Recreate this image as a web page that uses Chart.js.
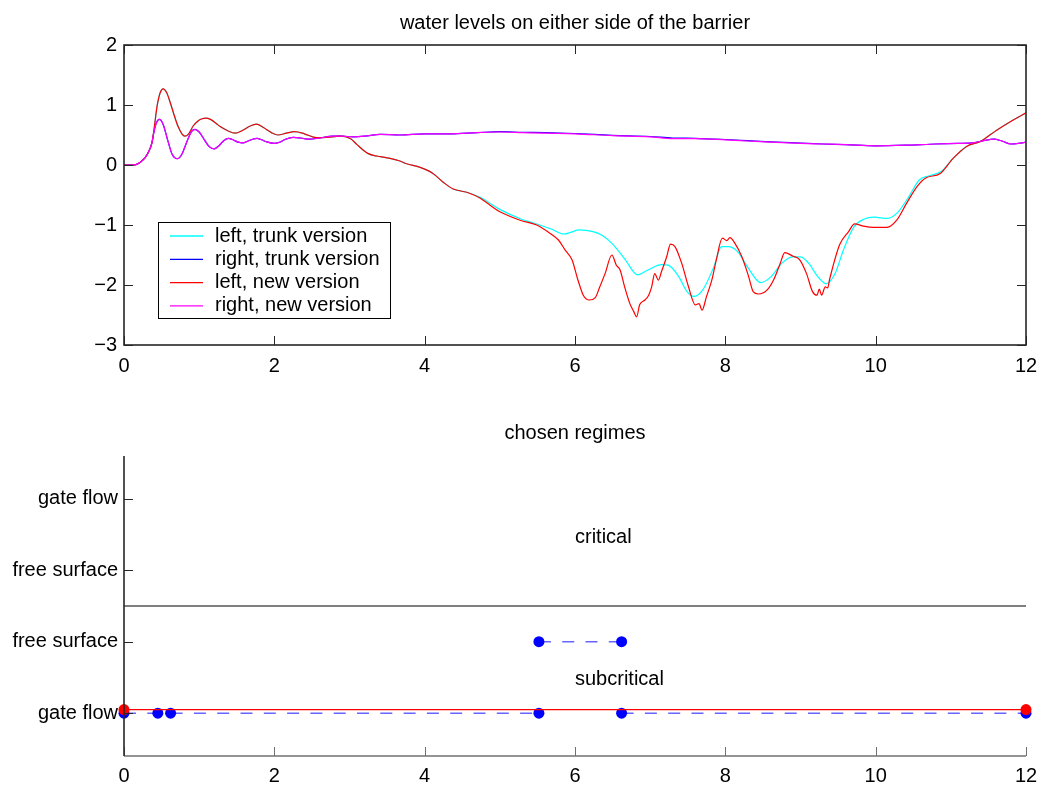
<!DOCTYPE html>
<html>
<head>
<meta charset="utf-8">
<title>water levels on either side of the barrier</title>
<script src="https://cdn.jsdelivr.net/npm/chart.js@4/dist/chart.umd.min.js"></script>
<style>
  html, body { margin: 0; padding: 0; background: #fff; }
  canvas { position: absolute; left: 0; }
  #levels { top: 0; }
  #regimes { top: 400px; }
</style>
</head>
<body>
<canvas id="levels" width="1039" height="400"></canvas>
<canvas id="regimes" width="1039" height="387"></canvas>
<script>
// ---- water levels: [time, level] ----
const leftTrunkLevels = [
  [0,0],[0.1,0],[0.17,0.01],[0.25,0.08],[0.31,0.18],[0.37,0.36],[0.4,0.6],[0.44,0.98],[0.48,1.2],[0.52,1.27],
  [0.57,1.2],[0.62,1.02],[0.67,0.82],[0.72,0.64],[0.77,0.52],[0.81,0.48],[0.86,0.52],[0.92,0.65],[0.98,0.73],[1.04,0.77],
  [1.09,0.78],[1.15,0.76],[1.22,0.70],[1.28,0.64],[1.38,0.57],[1.48,0.53],[1.58,0.58],[1.68,0.65],[1.76,0.68],[1.86,0.62],
  [1.96,0.54],[2.05,0.50],[2.16,0.53],[2.27,0.555],[2.4,0.52],[2.56,0.455],[2.7,0.46],[2.87,0.48],[3.01,0.44],[3.1,0.34],
  [3.18,0.25],[3.25,0.19],[3.32,0.16],[3.41,0.14],[3.54,0.11],[3.66,0.07],[3.76,0.02],[3.94,-0.04],[4.11,-0.14],[4.25,-0.29],
  [4.38,-0.40],[4.56,-0.455],[4.74,-0.54],[4.87,-0.64],[5.0,-0.74],[5.28,-0.9],[5.46,-0.97],[5.69,-1.07],[5.85,-1.15],[5.95,-1.12],
  [6.05,-1.08],[6.24,-1.11],[6.37,-1.18],[6.51,-1.33],[6.67,-1.58],[6.83,-1.83],[6.97,-1.75],[7.15,-1.66],[7.24,-1.67],[7.38,-1.86],
  [7.49,-2.11],[7.58,-2.19],[7.70,-2.08],[7.84,-1.72],[7.95,-1.36],[8.04,-1.36],[8.16,-1.44],[8.29,-1.69],[8.47,-1.96],[8.61,-1.86],
  [8.75,-1.64],[8.89,-1.53],[9.0,-1.53],[9.11,-1.64],[9.23,-1.86],[9.34,-1.98],[9.46,-1.81],[9.57,-1.42],[9.71,-1.03],[9.84,-0.905],
  [9.98,-0.87],[10.16,-0.89],[10.30,-0.78],[10.44,-0.53],[10.58,-0.25],[10.71,-0.18],[10.87,-0.11],[11.03,0.11],[11.21,0.31],[11.39,0.39],
  [11.61,0.58],[11.83,0.75],[12,0.87]
];

const rightTrunkLevels = [
  [0,0],[0.1,0],[0.17,0.01],[0.25,0.08],[0.31,0.18],[0.37,0.36],[0.40,0.56],[0.43,0.7],[0.47,0.76],[0.52,0.68],
  [0.58,0.42],[0.64,0.18],[0.71,0.105],[0.77,0.18],[0.84,0.40],[0.9,0.56],[0.945,0.595],[1.0,0.55],[1.07,0.42],[1.13,0.31],
  [1.2,0.27],[1.27,0.33],[1.33,0.41],[1.39,0.445],[1.45,0.42],[1.52,0.38],[1.58,0.37],[1.65,0.40],[1.71,0.43],[1.77,0.445],
  [1.83,0.42],[1.9,0.385],[2.0,0.36],[2.07,0.38],[2.15,0.43],[2.25,0.46],[2.35,0.45],[2.47,0.43],[2.6,0.45],[2.78,0.48],
  [2.9,0.48],[3.05,0.47],[3.2,0.48],[3.41,0.51],[3.67,0.50],[4.0,0.52],[4.34,0.52],[4.7,0.54],[5.0,0.555],[5.3,0.545],
  [5.6,0.54],[6.0,0.525],[6.5,0.495],[7.0,0.475],[7.3,0.45],[7.6,0.445],[8.0,0.425],[8.3,0.405],[8.6,0.385],[9.0,0.365],
  [9.3,0.35],[9.6,0.34],[10.0,0.32],[10.4,0.33],[10.8,0.35],[11.1,0.36],[11.3,0.37],[11.45,0.41],[11.57,0.43],[11.68,0.40],
  [11.8,0.35],[11.9,0.36],[12,0.38]
];

const leftNewLevels = [
  [0,0],[0.1,0],[0.17,0.01],[0.25,0.08],[0.31,0.18],[0.37,0.36],[0.4,0.6],[0.44,0.98],[0.48,1.2],[0.52,1.27],
  [0.57,1.2],[0.62,1.02],[0.67,0.82],[0.72,0.64],[0.77,0.52],[0.81,0.48],[0.86,0.52],[0.92,0.65],[0.98,0.73],[1.04,0.77],
  [1.09,0.78],[1.15,0.76],[1.22,0.70],[1.28,0.64],[1.38,0.57],[1.48,0.53],[1.58,0.58],[1.68,0.65],[1.76,0.68],[1.86,0.62],
  [1.96,0.54],[2.05,0.50],[2.16,0.53],[2.27,0.555],[2.4,0.52],[2.56,0.455],[2.7,0.46],[2.87,0.48],[3.01,0.44],[3.1,0.34],
  [3.18,0.25],[3.25,0.19],[3.32,0.16],[3.41,0.14],[3.54,0.11],[3.66,0.07],[3.76,0.02],[3.94,-0.04],[4.11,-0.14],[4.25,-0.29],
  [4.38,-0.40],[4.56,-0.455],[4.74,-0.555],[4.87,-0.67],[5.0,-0.78],[5.27,-0.92],[5.49,-1.0],[5.67,-1.14],[5.78,-1.25],[5.87,-1.42],
  [5.96,-1.58],[6.04,-1.92],[6.11,-2.17],[6.19,-2.25],[6.27,-2.21],[6.33,-2.03],[6.40,-1.81],[6.49,-1.50],[6.55,-1.67],[6.60,-1.75],
  [6.66,-2.03],[6.73,-2.31],[6.78,-2.44],[6.82,-2.53],[6.86,-2.33],[6.93,-2.25],[6.98,-2.17],[7.02,-2.03],[7.06,-1.81],[7.11,-1.92],
  [7.15,-1.78],[7.22,-1.53],[7.27,-1.32],[7.33,-1.36],[7.42,-1.64],[7.51,-2.03],[7.60,-2.33],[7.65,-2.31],[7.69,-2.42],[7.75,-2.19],
  [7.82,-1.92],[7.88,-1.58],[7.96,-1.22],[8.02,-1.26],[8.06,-1.21],[8.13,-1.31],[8.22,-1.53],[8.31,-1.86],[8.37,-2.11],[8.44,-2.15],
  [8.55,-2.09],[8.64,-1.92],[8.73,-1.64],[8.79,-1.46],[8.90,-1.52],[8.99,-1.58],[9.08,-1.81],[9.16,-2.11],[9.22,-2.17],[9.25,-2.07],
  [9.28,-2.17],[9.33,-2.03],[9.36,-2.05],[9.39,-1.89],[9.52,-1.33],[9.64,-1.11],[9.72,-0.98],[9.84,-1.02],[9.97,-1.04],[10.15,-1.04],
  [10.28,-0.92],[10.41,-0.64],[10.55,-0.36],[10.66,-0.22],[10.86,-0.14],[11.03,0.11],[11.21,0.31],[11.39,0.39],[11.61,0.58],[11.83,0.75],
  [12,0.87]
];

const rightNewLevels = [
  [0,0],[0.1,0],[0.17,0.01],[0.25,0.08],[0.31,0.18],[0.37,0.36],[0.40,0.56],[0.43,0.7],[0.47,0.76],[0.52,0.68],
  [0.58,0.42],[0.64,0.18],[0.71,0.105],[0.77,0.18],[0.84,0.40],[0.9,0.56],[0.945,0.595],[1.0,0.55],[1.07,0.42],[1.13,0.31],
  [1.2,0.27],[1.27,0.33],[1.33,0.41],[1.39,0.445],[1.45,0.42],[1.52,0.38],[1.58,0.37],[1.65,0.40],[1.71,0.43],[1.77,0.445],
  [1.83,0.42],[1.9,0.385],[2.0,0.36],[2.07,0.38],[2.15,0.43],[2.25,0.46],[2.35,0.45],[2.47,0.43],[2.6,0.45],[2.78,0.48],
  [2.9,0.48],[3.05,0.47],[3.2,0.48],[3.41,0.51],[3.67,0.50],[4.0,0.52],[4.34,0.52],[4.7,0.54],[5.0,0.55],[5.3,0.54],
  [5.6,0.53],[6.0,0.52],[6.5,0.49],[7.0,0.47],[7.3,0.44],[7.6,0.44],[8.0,0.42],[8.3,0.40],[8.6,0.38],[9.0,0.36],
  [9.3,0.35],[9.6,0.34],[10.0,0.32],[10.4,0.33],[10.8,0.35],[11.1,0.36],[11.3,0.37],[11.45,0.41],[11.57,0.43],[11.68,0.40],
  [11.8,0.35],[11.9,0.36],[12,0.38]
];

const levelSeriesNames = ['left, trunk version', 'right, trunk version', 'left, new version', 'right, new version'];
const levelTicksX = [0, 2, 4, 6, 8, 10, 12];
const levelTicksY = [-3, -2, -1, 0, 1, 2];

// ---- chosen regimes: [time, regime level] ----
const regimeLabels = ['gate flow', 'free surface', 'free surface', 'gate flow'];
const regimeTickValues = [0, 1, 2, 3];
const regimeBoundary = [[0, 1.5], [12, 1.5]];
const trunkRegimes = [[0,0],[0.45,0],[0.62,0],[5.52,0],[5.52,null],[5.52,1],[6.62,1],[6.62,null],[6.62,0],[12,0]];
const newRegimes = [[0,0.05],[12,0.05]];
const regionNames = ['critical', 'subcritical'];
const regionLevels = [2.5, 0.5];
const regionTime = 6;

const FONT = '"Liberation Sans", Arial, Helvetica, sans-serif';
const FONT_SIZE = 20;
Chart.defaults.font.family = FONT;
Chart.defaults.font.size = FONT_SIZE;
Chart.defaults.color = '#000';

const TICK = 9;
const toXY = pts => pts.map(p => ({ x: p[0], y: p[1] }));
const minus = v => (v < 0 ? '\u2212' + Math.abs(v) : String(v));

// keep the plot area fixed: no extra room reserved for edge tick labels
const fixHeight = h => s => { s.height = h; s.paddingLeft = 0; s.paddingRight = 0; };
const fixWidth = w => s => { s.width = w; s.paddingTop = 0; s.paddingBottom = 0; };

// frame, inward tick marks and legend for the water level axes
const levelFrame = {
  id: 'levelFrame',
  afterDraw(chart) {
    const { ctx, chartArea: a, scales: { x, y } } = chart;
    ctx.save();
    ctx.strokeStyle = '#262626';
    ctx.lineWidth = 1;
    ctx.beginPath();
    x.ticks.forEach(t => {
      const px = Math.round(x.getPixelForValue(t.value)) + 0.5;
      ctx.moveTo(px, a.bottom); ctx.lineTo(px, a.bottom - TICK);
      ctx.moveTo(px, a.top); ctx.lineTo(px, a.top + TICK);
    });
    y.ticks.forEach(t => {
      const py = Math.round(y.getPixelForValue(t.value)) + 0.5;
      ctx.moveTo(a.left, py); ctx.lineTo(a.left + TICK, py);
      ctx.moveTo(a.right, py); ctx.lineTo(a.right - TICK, py);
    });
    ctx.stroke();
    ctx.lineWidth = 1.6;
    ctx.strokeRect(a.left, a.top, a.right - a.left, a.bottom - a.top);

    // legend box
    const L = a.left + 34, T = a.top + 177, W = 232, H = 96;
    ctx.fillStyle = '#fff';
    ctx.fillRect(L, T, W, H);
    ctx.strokeStyle = '#000';
    ctx.lineWidth = 1;
    ctx.strokeRect(L + 0.5, T + 0.5, W, H);
    ctx.font = FONT_SIZE + 'px ' + FONT;
    ctx.textBaseline = 'middle';
    ctx.textAlign = 'left';
    chart.data.datasets.forEach((ds, i) => {
      const cy = T + 14 + i * 23.3;
      ctx.strokeStyle = ds.borderColor;
      ctx.lineWidth = 1.3;
      ctx.beginPath();
      ctx.moveTo(L + 12, cy); ctx.lineTo(L + 45, cy);
      ctx.stroke();
      ctx.fillStyle = '#000';
      ctx.fillText(ds.label, L + 57, cy);
    });
    ctx.restore();
  }
};

// later series are drawn on top of earlier ones
const lineStyle = (color, layer) => ({
  borderColor: color, backgroundColor: color, borderWidth: 1.2, order: layer,
  pointRadius: 0, cubicInterpolationMode: 'monotone', fill: false
});

new Chart(document.getElementById('levels'), {
  type: 'line',
  data: {
    datasets: [
      { label: levelSeriesNames[0], data: toXY(leftTrunkLevels), ...lineStyle('#00ffff', 4) },
      { label: levelSeriesNames[1], data: toXY(rightTrunkLevels), ...lineStyle('#0000ff', 3) },
      { label: levelSeriesNames[2], data: toXY(leftNewLevels), ...lineStyle('#ff0000', 2) },
      { label: levelSeriesNames[3], data: toXY(rightNewLevels), ...lineStyle('#ff00ff', 1) }
    ]
  },
  options: {
    responsive: false, animation: false, devicePixelRatio: 1,
    layout: { padding: { left: 0, right: 13, top: 0, bottom: 0 } },
    plugins: {
      legend: { display: false },
      tooltip: { enabled: false },
      title: {
        display: true, text: 'water levels on either side of the barrier',
        fullSize: false,
        font: { size: FONT_SIZE, weight: 'normal' }, color: '#000',
        padding: { top: 11, bottom: 10 }
      }
    },
    scales: {
      x: {
        type: 'linear', min: 0, max: 12,
        afterBuildTicks: s => { s.ticks = levelTicksX.map(v => ({ value: v })); },
        afterFit: fixHeight(55),
        grid: { display: false, drawTicks: false },
        border: { display: false },
        ticks: { padding: 9, color: '#000', maxRotation: 0, callback: v => minus(v) }
      },
      y: {
        type: 'linear', min: -3, max: 2,
        afterBuildTicks: s => { s.ticks = levelTicksY.map(v => ({ value: v })); },
        afterFit: fixWidth(124),
        grid: { display: false, drawTicks: false },
        border: { display: false },
        ticks: { padding: 7, color: '#000', callback: v => minus(v) }
      }
    }
  },
  plugins: [levelFrame]
});

// axes lines, inward ticks and region names for the regime axes
const regimeFrame = {
  id: 'regimeFrame',
  afterDatasetsDraw(chart) {
    const { ctx, scales: { x, y } } = chart;
    ctx.save();
    ctx.font = FONT_SIZE + 'px ' + FONT;
    ctx.fillStyle = '#000';
    ctx.textAlign = 'left';
    ctx.textBaseline = 'alphabetic';
    regionNames.forEach((name, i) => {
      ctx.fillText(name, x.getPixelForValue(regionTime), y.getPixelForValue(regionLevels[i]) + 8);
    });
    ctx.restore();
  },
  afterDraw(chart) {
    const { ctx, chartArea: a, scales: { x, y } } = chart;
    ctx.save();
    ctx.lineWidth = 1;
    ctx.strokeStyle = '#707070';
    ctx.beginPath();
    x.ticks.forEach(t => {
      const px = Math.round(x.getPixelForValue(t.value)) + 0.5;
      ctx.moveTo(px, a.bottom); ctx.lineTo(px, a.bottom - TICK);
    });
    ctx.stroke();
    ctx.lineWidth = 1.6;
    ctx.beginPath();
    ctx.moveTo(a.left, a.bottom); ctx.lineTo(a.right, a.bottom);
    ctx.stroke();
    ctx.strokeStyle = '#262626';
    ctx.lineWidth = 1;
    ctx.beginPath();
    y.ticks.forEach(t => {
      const py = Math.round(y.getPixelForValue(t.value)) + 0.5;
      ctx.moveTo(a.left, py); ctx.lineTo(a.left + TICK, py);
    });
    ctx.stroke();
    ctx.lineWidth = 1.6;
    ctx.beginPath();
    ctx.moveTo(a.left, a.top); ctx.lineTo(a.left, a.bottom);
    ctx.stroke();
    ctx.restore();
  }
};

new Chart(document.getElementById('regimes'), {
  type: 'line',
  data: {
    datasets: [
      { label: 'boundary', data: toXY(regimeBoundary), borderColor: '#555555', borderWidth: 1.3,
        pointRadius: 0, clip: false, order: 3 },
      { label: 'trunk version', data: toXY(trunkRegimes), borderColor: 'rgba(0,0,255,0.6)', borderWidth: 1.5,
        borderDash: [12, 11.3], spanGaps: false, pointRadius: 5.5, pointBorderWidth: 0,
        pointBackgroundColor: '#0000ff', clip: false, order: 2 },
      { label: 'new version', data: toXY(newRegimes), borderColor: '#ff0000', borderWidth: 1.2,
        pointRadius: 5.5, pointBorderWidth: 0, pointBackgroundColor: '#ff0000', clip: false, order: 1 }
    ]
  },
  options: {
    responsive: false, animation: false, devicePixelRatio: 1,
    layout: { padding: { left: 0, right: 13, top: 0, bottom: 0 } },
    plugins: {
      legend: { display: false },
      tooltip: { enabled: false },
      title: {
        display: true, text: 'chosen regimes',
        fullSize: false,
        font: { size: FONT_SIZE, weight: 'normal' }, color: '#000',
        padding: { top: 21, bottom: 11 }
      }
    },
    scales: {
      x: {
        type: 'linear', min: 0, max: 12,
        afterBuildTicks: s => { s.ticks = levelTicksX.map(v => ({ value: v })); },
        afterFit: fixHeight(31),
        grid: { display: false, drawTicks: false },
        border: { display: false },
        ticks: { padding: 8, color: '#000', maxRotation: 0 }
      },
      y: {
        type: 'linear', min: -0.6, max: 3.6,
        afterBuildTicks: s => { s.ticks = regimeTickValues.map(v => ({ value: v })); },
        afterFit: fixWidth(124),
        grid: { display: false, drawTicks: false },
        border: { display: false },
        ticks: { padding: 6, color: '#000', callback: (v, i) => regimeLabels[i] }
      }
    }
  },
  plugins: [regimeFrame]
});
</script>
</body>
</html>
